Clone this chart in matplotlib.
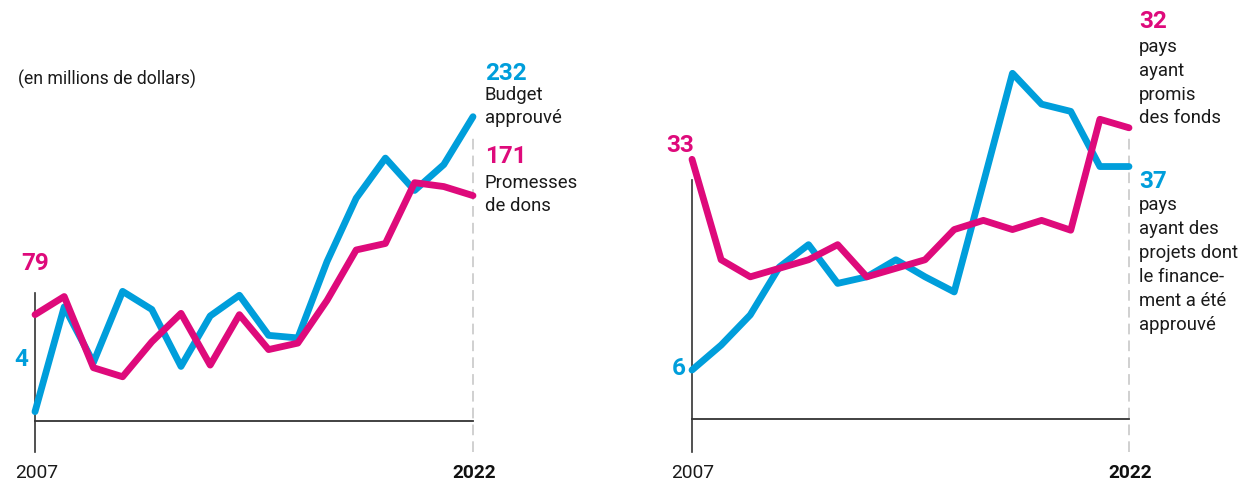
import matplotlib
matplotlib.use("Agg")
import matplotlib.pyplot as plt

plt.rcParams['font.family'] = ['Roboto', 'DejaVu Sans']

# données
annees = list(range(2007, 2023))

# gauche : millions de dollars
budget_approuve = [4, 85, 42, 97, 83, 39, 78, 94, 63, 61, 120, 169, 200, 175, 195, 232]
promesses_dons = [79, 93, 38, 31, 58, 80, 40, 79, 52, 57, 90, 129, 134, 181, 178, 171]

# droite : nombre de pays
pays_projets = [6, 9.8, 14.4, 21.7, 25.1, 19.2, 20.2, 22.8, 20.2, 17.9, 34.5, 51.2, 46.5, 45.4, 37, 37]
pays_promis = [38.1, 22.8, 20.2, 21.5, 22.8, 25.1, 20.2, 21.5, 22.8, 27.4, 28.8, 27.4, 28.8, 27.3, 44.2, 42.9]
etiq_projets = ["6", "37"]
etiq_promis = ["33", "32"]

BLEU = '#009edb'
ROSE = '#de0a7b'
GRIS = '#333333'
W, H = 1248, 483

fig = plt.figure(figsize=(12.48, 4.83), dpi=100)


def axes_px(x0, x1, ybas, yhaut):
    return fig.add_axes([x0 / W, 1 - ybas / H, (x1 - x0) / W, (ybas - yhaut) / H])


def texte(x, y, s, **kw):
    fig.text(x / W, 1 - y / H, s, va='baseline', **kw)


def panneau(ax, ylim, axe_haut, axe_bas, tirets_haut):
    ax.set_xlim(2007, 2022)
    ax.set_ylim(*ylim)
    ax.axis('off')
    ax.plot([2007, 2022], [ylim[0], ylim[0]], color=GRIS, lw=1.3, clip_on=False)
    ax.plot([2007, 2007], [axe_bas, axe_haut], color=GRIS, lw=1.2, clip_on=False)
    ax.plot([2022, 2022], [axe_bas, tirets_haut], color='#c4c4c4', lw=1.1,
            dashes=(7, 4), clip_on=False, zorder=0)


# panneau gauche
ax1 = axes_px(35, 473, 421, 116.7)
panneau(ax1, (-3.2, 232), 95.7, -27.1, 216)
ax1.plot(annees, budget_approuve, color=BLEU, lw=4.9, solid_capstyle='round',
         solid_joinstyle='round', clip_on=False, zorder=3)
ax1.plot(annees, promesses_dons, color=ROSE, lw=4.9, solid_capstyle='round',
         solid_joinstyle='round', clip_on=False, zorder=4)

# panneau droit
ax2 = axes_px(692, 1129, 419.3, 73.3)
panneau(ax2, (-1.5, 51.2), 35, -6.5, 41.8)
ax2.plot(annees, pays_projets, color=BLEU, lw=4.9, solid_capstyle='round',
         solid_joinstyle='round', clip_on=False, zorder=3)
ax2.plot(annees, pays_promis, color=ROSE, lw=4.9, solid_capstyle='round',
         solid_joinstyle='round', clip_on=False, zorder=4)

NUM = dict(fontsize=17.5, fontweight='bold')
TXT = dict(fontsize=13.3, color='#1a1a1a')
AN = dict(fontsize=13.8, ha='center')

# textes gauche
texte(18, 85, "(en millions de dollars)", fontsize=12.7, color='#1a1a1a')
texte(35, 270, f"{promesses_dons[0]}", color=ROSE, ha='center', **NUM)
texte(28, 366.5, f"{budget_approuve[0]}", color=BLEU, ha='right', **NUM)
texte(485, 80, f"{budget_approuve[-1]}", color=BLEU, **NUM)
texte(485, 100, "Budget", **TXT)
texte(485, 122.7, "approuvé", **TXT)
texte(485, 163.3, f"{promesses_dons[-1]}", color=ROSE, **NUM)
texte(485, 188.3, "Promesses", **TXT)
texte(485, 211.3, "de dons", **TXT)
texte(36.5, 478.5, str(annees[0]), color='#1a1a1a', **AN)
texte(474, 478.5, str(annees[-1]), fontweight='bold', color='#111111', **AN)

# textes droite
texte(680, 151.7, etiq_promis[0], color=ROSE, ha='center', **NUM)
texte(686, 375, etiq_projets[0], color=BLEU, ha='right', **NUM)
texte(1139, 28.3, etiq_promis[1], color=ROSE, **NUM)
for i, ligne in enumerate(["pays", "ayant", "promis", "des fonds"]):
    texte(1139, 51.7 + i * 23.9, ligne, **TXT)
texte(1139, 188.3, etiq_projets[1], color=BLEU, **NUM)
for i, ligne in enumerate(["pays", "ayant des", "projets dont", "le finance-",
                           "ment a été", "approuvé"]):
    texte(1139, 210 + i * 24, ligne, **TXT)
texte(693, 478.5, str(annees[0]), color='#1a1a1a', **AN)
texte(1130, 478.5, str(annees[-1]), fontweight='bold', color='#111111', **AN)

fig.savefig("out.png", dpi=100)
